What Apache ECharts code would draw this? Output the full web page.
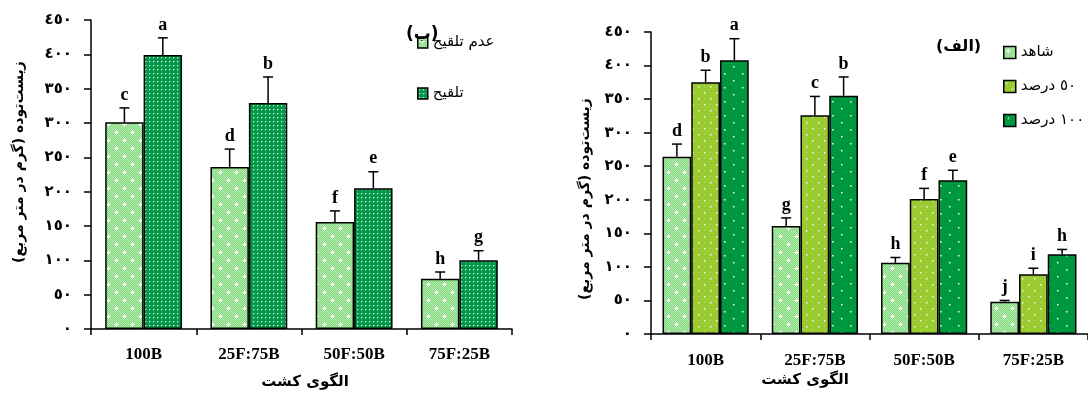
<!DOCTYPE html>
<html>
<head>
<meta charset="utf-8">
<script src="https://cdn.jsdelivr.net/npm/echarts@6/dist/echarts.min.js"></script>
<style>
html,body{margin:0;padding:0;background:#fff;}
#c{width:1088px;height:394px;}
</style>
</head>
<body>
<div id="c"></div>
<script>
// ---------- data ----------
const categories = ['100B', '25F:75B', '50F:50B', '75F:25B'];
const yTickLabels = ['٠', '٥٠', '١٠٠', '١٥٠', '٢٠٠', '٢٥٠', '٣٠٠', '٣٥٠', '٤٠٠', '٤٥٠'];

// left chart (ب)
const leftNames = ['عدم تلقیح', 'تلقیح'];
const noInoc = [301, 236, 156, 73];
const noInocErr = [21, 26, 16, 10];
const noInocLetters = ['c', 'd', 'f', 'h'];
const inoc = [399, 329, 205, 100];
const inocErr = [25, 38, 24, 14];
const inocLetters = ['a', 'b', 'e', 'g'];

// right chart (الف)
const rightNames = ['شاهد', '٥٠ درصد', '١٠٠ درصد'];
const control = [264, 161, 106, 48];
const controlErr = [19, 12, 8, 2];
const controlLetters = ['d', 'g', 'h', 'j'];
const p50 = [375, 326, 201, 89];
const p50Err = [18, 28, 16, 9];
const p50Letters = ['b', 'c', 'f', 'i'];
const p100 = [408, 355, 229, 119];
const p100Err = [32, 28, 15, 7];
const p100Letters = ['a', 'b', 'e', 'h'];

const yTitle = '\u200Fزیست‌توده (گرم در متر مربع)\u200F';
const xTitle = 'الگوی کشت';

// ---------- patterns ----------
function makeTile(w, h, bg, draw) {
  const c = document.createElement('canvas');
  c.width = w; c.height = h;
  const ctx = c.getContext('2d');
  ctx.fillStyle = bg; ctx.fillRect(0, 0, w, h);
  draw(ctx);
  return { image: c, repeat: 'repeat' };
}
const lightPat = makeTile(16, 16, '#84dc7e', ctx => {
  ctx.fillStyle = 'rgba(255,255,255,0.38)';
  for (let x = 0; x < 16; x++) for (let y = 0; y < 16; y++) if ((x + y) % 2 === 0) ctx.fillRect(x, y, 1, 1);
  ctx.fillStyle = '#ffffff';
  [[4, 4], [12, 12]].forEach(([cx, cy]) => {
    ctx.fillRect(cx - 2, cy, 5, 1); ctx.fillRect(cx, cy - 2, 1, 5);
  });
});
const darkDensePat = makeTile(4, 4, '#03984a', ctx => {
  ctx.fillStyle = 'rgba(255,255,255,0.85)';
  ctx.fillRect(1, 1, 1, 1);
  ctx.fillStyle = 'rgba(255,255,255,0.25)';
  ctx.fillRect(2, 1, 1, 1); ctx.fillRect(1, 2, 1, 1);
});
const limePat = makeTile(12, 12, '#9acb30', ctx => {
  ctx.fillStyle = 'rgba(255,255,255,0.9)';
  ctx.fillRect(2, 2, 1.5, 1.5); ctx.fillRect(8, 8, 1.5, 1.5);
  ctx.fillStyle = 'rgba(255,255,255,0.3)';
  ctx.fillRect(8, 2, 1, 1); ctx.fillRect(2, 8, 1, 1);
});
const darkSparsePat = makeTile(18, 14, '#00983e', ctx => {
  ctx.fillStyle = 'rgba(255,255,255,0.95)';
  ctx.fillRect(4, 3, 1.5, 1.5); ctx.fillRect(13, 10, 1.5, 1.5);
});

// ---------- helpers ----------
function errSeries(xIdx, values, errs, letters, slot, nSlots, frac) {
  return {
    type: 'custom', xAxisIndex: xIdx, yAxisIndex: xIdx, silent: true, z: 5,
    data: values.map((v, i) => [i, v, errs[i]]),
    renderItem(params, api) {
      const i = api.value(0), v = api.value(1), e = api.value(2);
      const base = api.coord([i, v]);
      const top = api.coord([i, v + e]);
      const bw = api.size([1, 0])[0] * frac;
      const x = base[0] + (slot - (nSlots - 1) / 2) * bw;
      return {
        type: 'group', children: [
          { type: 'line', shape: { x1: x, y1: base[1], x2: x, y2: top[1] }, style: { stroke: '#000', lineWidth: 1.5 } },
          { type: 'line', shape: { x1: x - 5, y1: top[1], x2: x + 5, y2: top[1] }, style: { stroke: '#000', lineWidth: 1.5 } },
          { type: 'text', x: x, y: top[1] - 4, style: { text: letters[params.dataIndex], textAlign: 'center', textVerticalAlign: 'bottom', font: 'bold 18px "Liberation Serif"', fill: '#000' } }
        ]
      };
    }
  };
}
function barSeries(name, xIdx, data, pat, width) {
  return {
    name, type: 'bar', xAxisIndex: xIdx, yAxisIndex: xIdx, data,
    barWidth: width, barGap: '0%',
    itemStyle: { color: pat, borderColor: '#000', borderWidth: 1.5 },
    emphasis: { disabled: true }
  };
}
function xAxisDef(gi, labelMargin) {
  return {
    type: 'category', gridIndex: gi, data: categories,
    axisLine: { show: true, lineStyle: { color: '#000', width: 1.5 } },
    axisTick: { show: true, length: 6, lineStyle: { color: '#000', width: 1.5 } },
    axisLabel: { color: '#000', fontFamily: 'Liberation Serif', fontWeight: 'bold', fontSize: 17, margin: labelMargin },
    splitLine: { show: false }
  };
}
function yAxisDef(gi) {
  return {
    type: 'value', gridIndex: gi, min: 0, max: 450, interval: 50,
    axisLine: { show: true, lineStyle: { color: '#000', width: 1.5 } },
    axisTick: { show: true, length: 7, lineStyle: { color: '#000', width: 1.5 } },
    axisLabel: { color: '#000', fontFamily: 'DejaVu Sans', fontWeight: 'bold', fontSize: 15, margin: 19,
      formatter: v => yTickLabels[Math.round(v / 50)] },
    splitLine: { show: false }
  };
}

const chart = echarts.init(document.getElementById('c'), null, { renderer: 'canvas' });
const LW = '36.5%', RW = '26.3%';
chart.setOption({
  animation: false,
  backgroundColor: '#fff',
  grid: [
    { left: 91, right: 576, top: 20, bottom: 65 },
    { left: 651, right: -10, top: 32, bottom: 60 }
  ],
  xAxis: [xAxisDef(0, 17), xAxisDef(1, 18)],
  yAxis: [yAxisDef(0), yAxisDef(1)],
  legend: [
    { data: leftNames, orient: 'vertical', left: 412, top: 30, itemWidth: 10, itemHeight: 11, itemGap: 36, itemTextGap: 7,
      selectedMode: false, icon: 'rect',
      itemStyle: { borderColor: '#000', borderWidth: 1.5 },
      textStyle: { color: '#000', fontFamily: 'DejaVu Sans', fontSize: 15 } },
    { data: rightNames, orient: 'vertical', left: 998, top: 40, itemWidth: 12, itemHeight: 12, itemGap: 19, itemTextGap: 8,
      selectedMode: false, icon: 'rect',
      itemStyle: { borderColor: '#000', borderWidth: 1.5 },
      textStyle: { color: '#000', fontFamily: 'DejaVu Sans', fontSize: 15 } }
  ],
  graphic: [
    { type: 'text', left: 406, top: 26, z: 100, style: { text: '(ب)', font: 'bold 17px "DejaVu Sans"', fill: '#000' } },
    { type: 'text', left: 936, top: 39, style: { text: '(الف)', font: 'bold 16px "DejaVu Sans"', fill: '#000' } },
    { type: 'text', x: 305, y: 382, style: { text: xTitle, font: 'bold 15px "DejaVu Sans"', fill: '#000', textAlign: 'center', textVerticalAlign: 'middle' } },
    { type: 'text', x: 805, y: 380, style: { text: xTitle, font: 'bold 15px "DejaVu Sans"', fill: '#000', textAlign: 'center', textVerticalAlign: 'middle' } },
    { type: 'text', x: 19, y: 162, rotation: Math.PI / 2, style: { text: yTitle, font: 'bold 14px "DejaVu Sans"', fill: '#000', textAlign: 'center', textVerticalAlign: 'middle' } },
    { type: 'text', x: 585, y: 199, rotation: Math.PI / 2, style: { text: yTitle, font: 'bold 14px "DejaVu Sans"', fill: '#000', textAlign: 'center', textVerticalAlign: 'middle' } }
  ],
  series: [
    barSeries(leftNames[0], 0, noInoc, lightPat, LW),
    barSeries(leftNames[1], 0, inoc, darkDensePat, LW),
    errSeries(0, noInoc, noInocErr, noInocLetters, 0, 2, 0.365),
    errSeries(0, inoc, inocErr, inocLetters, 1, 2, 0.365),
    barSeries(rightNames[0], 1, control, lightPat, RW),
    barSeries(rightNames[1], 1, p50, limePat, RW),
    barSeries(rightNames[2], 1, p100, darkSparsePat, RW),
    errSeries(1, control, controlErr, controlLetters, 0, 3, 0.263),
    errSeries(1, p50, p50Err, p50Letters, 1, 3, 0.263),
    errSeries(1, p100, p100Err, p100Letters, 2, 3, 0.263)
  ]
});
</script>
</body>
</html>
